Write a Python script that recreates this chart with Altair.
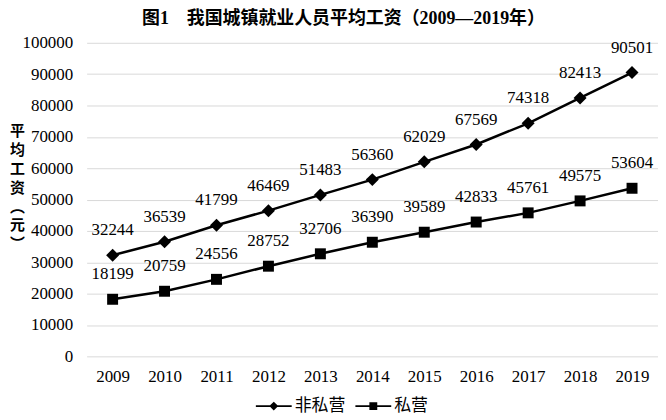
import altair as alt
import pandas as pd

years = ["2009", "2010", "2011", "2012", "2013", "2014", "2015", "2016", "2017", "2018", "2019"]
non_private = [32244, 36539, 41799, 46469, 51483, 56360, 62029, 67569, 74318, 82413, 90501]
private = [18199, 20759, 24556, 28752, 32706, 36390, 39589, 42833, 45761, 49575, 53604]
series_names = ["非私营", "私营"]
y_ticks = list(range(0, 100001, 10000))

rows = []
for y, v in zip(years, non_private):
    rows.append({"year": y, "value": v, "series": series_names[0]})
for y, v in zip(years, private):
    rows.append({"year": y, "value": v, "series": series_names[1]})
df = pd.DataFrame(rows)

SERIF = "'Liberation Serif', 'Noto Sans CJK SC', serif"
CJK = "'Noto Sans CJK SC', sans-serif"

x_enc = alt.X("year:O", sort=years, axis=alt.Axis(title=None, labelAngle=0, labelFont=SERIF,
              labelFontSize=17, labelColor="black", labelPadding=12, ticks=False, domain=False, grid=False))
y_enc = alt.Y("value:Q", scale=alt.Scale(domain=[0, 100000], nice=False),
              axis=alt.Axis(values=y_ticks, format="d", labelFont=SERIF, labelFontSize=17,
                            labelColor="black", labelPadding=14, ticks=False, domain=False,
                            grid=True, gridColor="#d9d9d9", gridWidth=1,
                            title=["平", "均", "工", "资", "︵", "元", "︶"],
                            titleAngle=0, titleAlign="center", titleBaseline="middle",
                            titleX=-70, titleY=88, titleLineHeight=19, titleFontSize=15,
                            titleFontWeight="bold", titleFont=CJK, titleColor="black"))

base = alt.Chart(df)

lines = base.mark_line(color="black", strokeWidth=2.5).encode(x=x_enc, y=y_enc, detail="series:N")

diamonds = base.transform_filter(alt.datum.series == series_names[0]).mark_point(
    shape="diamond", size=170, filled=True, color="black", opacity=1).encode(x=x_enc, y=y_enc)
squares = base.transform_filter(alt.datum.series == series_names[1]).mark_point(
    shape="square", size=121, filled=True, color="black", opacity=1).encode(x=x_enc, y=y_enc)

labels = base.mark_text(dy=-25, font=SERIF, fontSize=17, color="black").encode(
    x=x_enc, y=y_enc, text=alt.Text("value:Q", format="d"))

path_d = "M-1,-0.055L1,-0.055L1,0.055L-1,0.055ZM-0.25,0L0,-0.25L0.25,0L0,0.25Z"
path_s = "M-1,-0.055L1,-0.055L1,0.055L-1,0.055ZM-0.22,-0.22L0.22,-0.22L0.22,0.22L-0.22,0.22Z"

legend_layer = base.mark_point(filled=True, opacity=0, color="black").encode(
    x=x_enc, y=y_enc,
    shape=alt.Shape("series:N", sort=series_names,
                    scale=alt.Scale(domain=series_names, range=[path_d, path_s]),
                    legend=alt.Legend(orient="none", legendX=170, legendY=347, direction="horizontal",
                                      title=None, symbolSize=1296, symbolStrokeWidth=0,
                                      symbolOpacity=1, symbolFillColor="black", symbolStrokeColor="black",
                                      labelFont=CJK, labelFontSize=17, labelColor="black",
                                      labelOffset=3, columnPadding=10)))

chart = alt.layer(lines, diamonds, squares, labels, legend_layer).properties(
    width=574, height=315,
    padding={"left": 79, "top": 34, "right": 0, "bottom": 63},
    autosize="none",
    title=alt.Title("图1　我国城镇就业人员平均工资（2009—2019年）", font=SERIF, fontSize=18,
                    fontWeight="bold", anchor="middle", dx=-29, offset=6, color="black"),
).configure_view(stroke=None)

chart.save("out.html", embed_options={"renderer": "svg", "actions": False})
